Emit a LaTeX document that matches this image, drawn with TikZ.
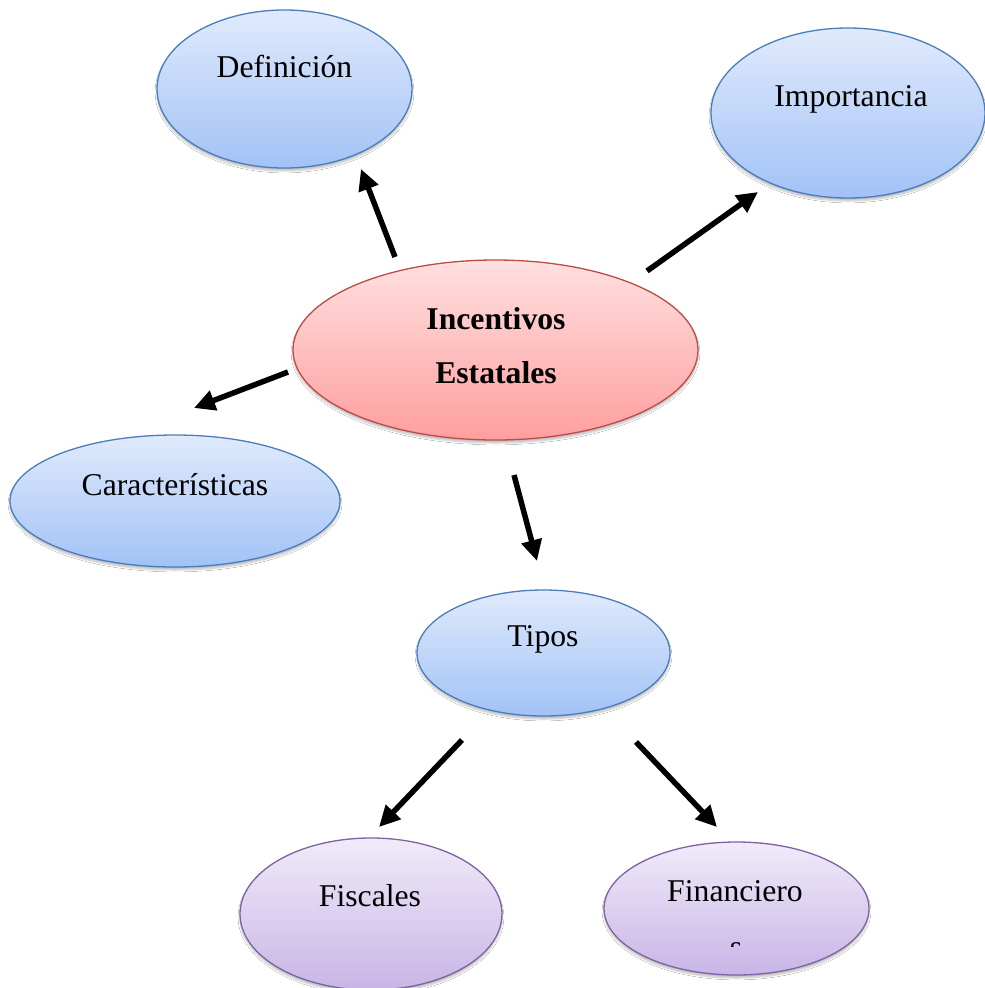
\documentclass[tikz,border=0pt]{standalone}
\usepackage{fontspec}
\setmainfont{Liberation Serif}
\usetikzlibrary{shapes.geometric,arrows.meta,shadows.blur}
\definecolor{blueTop}{HTML}{E0EAFC}
\definecolor{blueBot}{HTML}{A2C2F6}
\definecolor{blueLine}{HTML}{4A7EBB}
\definecolor{redTop}{HTML}{FFE0E0}
\definecolor{redBot}{HTML}{FF9E9E}
\definecolor{redLine}{HTML}{BE4B48}
\definecolor{purTop}{HTML}{F0EBF9}
\definecolor{purBot}{HTML}{C8B5E6}
\definecolor{purLine}{HTML}{7E62A1}
\tikzset{
  oval/.style={ellipse, inner sep=0pt, line width=1.3pt, blur shadow={shadow xshift=0pt, shadow yshift=-3pt, shadow blur steps=6, shadow opacity=25}},
  blueoval/.style={oval, draw=blueLine, top color=blueTop, bottom color=blueBot},
  redoval/.style={oval, draw=redLine, top color=redTop, bottom color=redBot},
  puroval/.style={oval, draw=purLine, top color=purTop, bottom color=purBot},
  lbl/.style={font=\fontsize{31.7}{38}\selectfont, inner sep=0pt},
  arr/.style={line width=5.5pt, -{Triangle[length=21pt,width=20pt]}, shorten >=0pt}
}
\begin{document}
\begin{tikzpicture}[x=1pt,y=-1pt]
\useasboundingbox (0,0) rectangle (985,988);
\fill[white] (0,0) rectangle (985,988);
% ovals
\node[blueoval, minimum width=255pt, minimum height=158pt] (def) at (284.5,89) {};
\node[blueoval, minimum width=274pt, minimum height=170pt] (imp) at (848,113) {};
\node[redoval, minimum width=405pt, minimum height=180pt] (inc) at (495.5,350) {};
\node[blueoval, minimum width=330pt, minimum height=132pt] (car) at (175,501) {};
\node[blueoval, minimum width=253pt, minimum height=126pt] (tip) at (543.5,653) {};
\node[puroval, minimum width=262pt, minimum height=152pt] (fis) at (371,914) {};
\node[puroval, minimum width=265pt, minimum height=133pt] (fin) at (736.5,908.5) {};
% labels
\node[lbl] (defT) at (284.5,66) {Definición};
\node[lbl] (impT) at (851,99) {Importancia};
\node[lbl, font=\fontsize{31.7}{38}\selectfont\bfseries] (incT1) at (496,319) {Incentivos};
\node[lbl, font=\fontsize{31.7}{38}\selectfont\bfseries] (incT2) at (496,373) {Estatales};
\node[lbl] (carT) at (175,485) {Características};
\node[lbl] (tipT) at (543,639) {Tipos};
\node[lbl] (fisT) at (370,896) {Fiscales};
\node[lbl] (finT) at (735,891) {Financiero};
\begin{scope}
\clip (700,930) rectangle (775,946.5);
\node[lbl, anchor=base] (finS) at (736,957) {s};
\end{scope}
% arrow end points
\coordinate (a1s) at (395,257); \coordinate (a1e) at (361,169);
\coordinate (a2s) at (647,271); \coordinate (a2e) at (758,192);
\coordinate (a3s) at (288,372); \coordinate (a3e) at (194,408);
\coordinate (a4s) at (514,475); \coordinate (a4e) at (537,561);
\coordinate (a5s) at (462,740); \coordinate (a5e) at (379,827);
\coordinate (a6s) at (636,742); \coordinate (a6e) at (717,827);
\draw[arr] (a1s) -- (a1e);
\draw[arr] (a2s) -- (a2e);
\draw[arr] (a3s) -- (a3e);
\draw[arr] (a4s) -- (a4e);
\draw[arr] (a5s) -- (a5e);
\draw[arr] (a6s) -- (a6e);
\end{tikzpicture}
\end{document}
